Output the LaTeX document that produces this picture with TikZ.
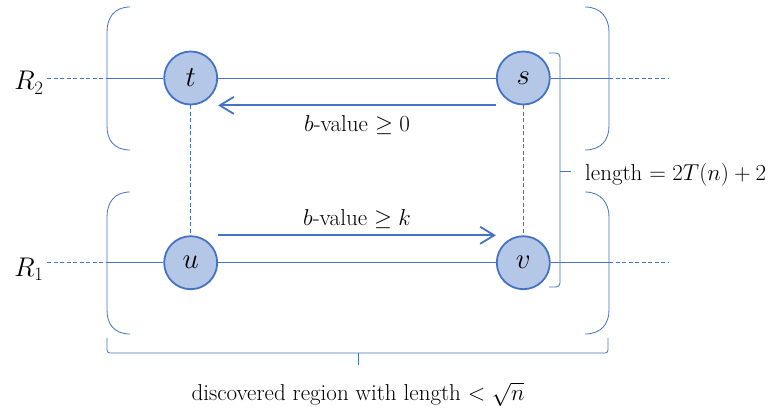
\RequirePackage{fix-cm}
\documentclass[tikz,border=0pt]{standalone}
\usepackage{fontspec}
\usetikzlibrary{arrows.meta}
\definecolor{lblue}{HTML}{4472C4}
\definecolor{cfill}{HTML}{B4C7E7}
\begin{document}
\begin{tikzpicture}[x=1pt,y=-1pt,
  vert/.style={circle,minimum size=53pt,inner sep=0pt,draw=lblue,fill=cfill,line width=1.8pt,font=\fontsize{29}{33}\selectfont},
  hl/.style={draw=lblue,line width=0.9pt},
  dsh/.style={draw=lblue,line width=0.9pt,dash pattern=on 4pt off 2.5pt},
  brk/.style={draw=lblue,line width=0.8pt},
  arr/.style={draw=lblue,line width=2.2pt,-{Straight Barb[length=14pt,width=17pt,line width=1.8pt]}},
  lbl/.style={font=\fontsize{23}{27}\selectfont,inner sep=0pt,anchor=base},
  rlbl/.style={font=\fontsize{27}{31}\selectfont,inner sep=0pt,anchor=base}]
\useasboundingbox (0,0) rectangle (784,409);
% vertices
\node[vert] (t) at (190.7,78) {$t$};
\node[vert] (s) at (523.3,78) {$s$};
\node[vert] (u) at (190.7,262.7) {$u$};
\node[vert] (v) at (523.3,262.7) {$v$};
% row labels
\node[rlbl] (R2) at (29,90) {$R_2$};
\node[rlbl] (R1) at (29,276.5) {$R_1$};
% line end coordinates
\coordinate (a2) at (47,78);
\coordinate (L2) at (107,78);
\coordinate (M2) at (609,78);
\coordinate (e2) at (668,78);
\coordinate (a1) at (47,262.7);
\coordinate (L1) at (107,262.7);
\coordinate (M1) at (609,262.7);
\coordinate (e1) at (668,262.7);
% row lines
\draw[dsh] (a2) -- (L2);
\draw[hl] (L2) -- (t);
\draw[hl] (t) -- (s);
\draw[hl] (s) -- (M2);
\draw[dsh] (M2) -- (e2);
\draw[dsh] (a1) -- (L1);
\draw[hl] (L1) -- (u);
\draw[hl] (u) -- (v);
\draw[hl] (v) -- (M1);
\draw[dsh] (M1) -- (e1);
% vertical dashed
\draw[dsh] (t) -- (u);
\draw[dsh] (s) -- (v);
% arrows
\draw[arr] (s.west |- s.south) -- (t.east |- t.south);
\draw[arr] (u.east |- u.north) -- (v.west |- v.north);
\node[lbl] (l0) at (357,131.5) {$b$-value $\geq 0$};
\node[lbl] (lk) at (357,225) {$b$-value $\geq k$};
% parentheses
\draw[brk] (130,7) .. controls (114,7) and (107,18) .. (107,32) -- (107,126) .. controls (107,140) and (114,150) .. (130,150);
\draw[brk] (130,192) .. controls (114,192) and (107,203) .. (107,217) -- (107,310) .. controls (107,324) and (114,334) .. (130,334);
\draw[brk] (585,7) .. controls (601,7) and (609,18) .. (609,32) -- (609,126) .. controls (609,140) and (601,150) .. (585,150);
\draw[brk] (585,192) .. controls (601,192) and (609,203) .. (609,217) -- (609,310) .. controls (609,324) and (601,334) .. (585,334);
% right brace
\draw[brk,rounded corners=4pt] (549,53) -- (560,53) -- (560,287) -- (549,287);
\draw[brk] (560,171) -- (571,171);
\node[lbl,anchor=base west] (len) at (585,180) {length $= 2T(n) + 2$};
% bottom brace
\draw[brk,rounded corners=3pt] (107,338) -- (107,353) -- (608,353) -- (608,338);
\draw[brk] (358,353) -- (358,365);
\node[lbl] (disc) at (358,400.5) {discovered region with length $< \sqrt{n}$};
\end{tikzpicture}
\end{document}
